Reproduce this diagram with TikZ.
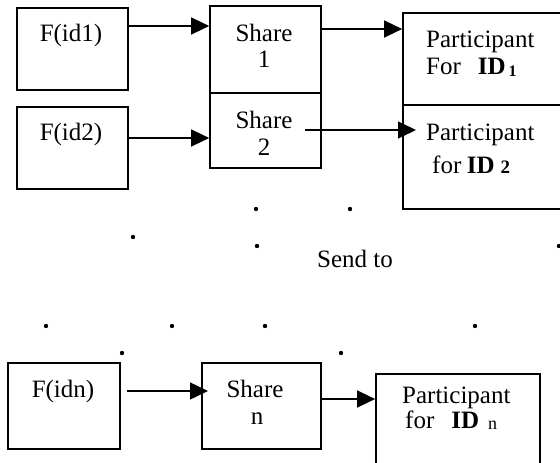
\documentclass[tikz,border=0pt]{standalone}
\usepackage{fontspec}
\setmainfont{Liberation Serif}
\usetikzlibrary{arrows.meta}
\begin{document}
\begin{tikzpicture}[x=1pt,y=-1pt,
  box/.style={draw,line width=1.7pt,inner sep=0pt},
  arr/.style={line width=1.5pt,-{Triangle[length=18pt,width=17pt]}},
  txt/.style={inner sep=0pt,font=\fontsize{25}{28}\selectfont},
  dot/.style={fill=black}]
\useasboundingbox (0,0) rectangle (560,463);
\clip (0,0) rectangle (560,463);
% boxes
\node[box,minimum width=111pt,minimum height=82pt] (f1) at (72.5,49) {};
\node[box,minimum width=111pt,minimum height=82pt] (f2) at (72.5,148) {};
\node[box,minimum width=111pt,minimum height=87pt] (s1) at (265.5,49.5) {};
\node[box,minimum width=111pt,minimum height=75pt] (s2) at (265.5,130.5) {};
\node[box,minimum width=167pt,minimum height=92pt] (p1) at (486.5,59) {};
\node[box,minimum width=167pt,minimum height=104pt] (p2) at (486.5,157) {};
\node[box,minimum width=112pt,minimum height=86pt] (fn) at (64,406) {};
\node[box,minimum width=119pt,minimum height=86pt] (sn) at (261.5,406) {};
\node[box,minimum width=164pt,minimum height=106pt] (pn) at (458,427) {};
% texts
\node[txt,anchor=base] (tf1) at (71,41) {F(id1)};
\node[txt,anchor=base] (tf2) at (71,140) {F(id2)};
\node[txt,anchor=base] (tfn) at (63,397) {F(idn)};
\node[txt,anchor=base] (ts1a) at (264,41) {Share};
\node[txt,anchor=base] (ts1b) at (264,67) {1};
\node[txt,anchor=base] (ts2a) at (264,128) {Share};
\node[txt,anchor=base] (ts2b) at (264,155) {2};
\node[txt,anchor=base] (tsna) at (255,397) {Share};
\node[txt,anchor=base] (tsnb) at (257,424) {n};
\node[txt,anchor=base west] (tp1a) at (426,47) {Participant};
\node[txt,anchor=base west] (tp1b) at (426,74) {For\hspace{17pt}\textbf{ID}\hspace{3pt}\raisebox{-2pt}{\fontsize{16}{16}\selectfont\textbf{1}}};
\node[txt,anchor=base west] (tp2a) at (426,140) {Participant};
\node[txt,anchor=base west] (tp2b) at (432,173) {for\hspace{5.5pt}\textbf{ID}\hspace{6pt}{\fontsize{19}{19}\selectfont\textbf{2}}};
\node[txt,anchor=base west] (tpna) at (402,403) {Participant};
\node[txt,anchor=base west] (tpnb) at (405,428) {for\hspace{17pt}\textbf{ID}\hspace{9pt}\raisebox{-1pt}{\fontsize{18}{18}\selectfont n}};
\node[txt,anchor=base west] (send) at (317,267) {Send to};
% arrow end points
\coordinate (y1) at (0,26);
\coordinate (y2) at (0,138);
\coordinate (y3) at (0,29);
\coordinate (a2s) at (305,130);
\coordinate (a2e) at (416,130);
\coordinate (ans) at (127,391);
\coordinate (ane) at (208,391);
\coordinate (y6) at (0,399);
\draw[arr] (f1.east |- y1) -- (s1.west |- y1);
\draw[arr] (f2.east |- y2) -- (s2.west |- y2);
\draw[arr] (s1.east |- y3) -- (p1.west |- y3);
\draw[arr] (a2s) -- (a2e);
\draw[arr] (ans) -- (ane);
\draw[arr] (sn.east |- y6) -- (pn.west |- y6);
% dots
\foreach \x/\y in {256/209,350/209,133/237,257/246,559/246,46/326,172/326,265/326,475/326,122/353,341/353}
  \fill[dot] (\x,\y) circle (2.2pt);
\end{tikzpicture}
\end{document}
